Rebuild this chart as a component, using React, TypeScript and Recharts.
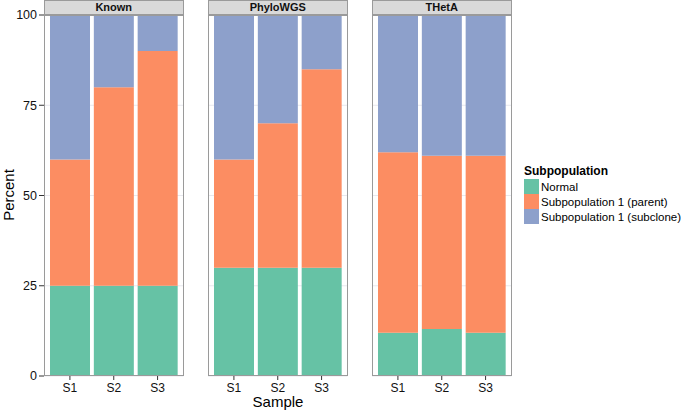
import React from 'react';
import { BarChart, Bar, XAxis, YAxis, CartesianGrid } from 'recharts';

const categories = ['S1', 'S2', 'S3'];
const facets = ['Known', 'PhyloWGS', 'THetA'];
const seriesNames = ['Normal', 'Subpopulation 1 (parent)', 'Subpopulation 1 (subclone)'];
const seriesColors = ['#66c2a5', '#fc8d62', '#8da0cb'];
const yTicks = [0, 25, 50, 75, 100];

const knownNormal = [25, 25, 25];
const knownParent = [35, 55, 65];
const knownSubclone = [40, 20, 10];

const phyloNormal = [30, 30, 30];
const phyloParent = [30, 40, 55];
const phyloSubclone = [40, 30, 15];

const thetaNormal = [12, 13, 12];
const thetaParent = [50, 48, 49];
const thetaSubclone = [38, 39, 39];

const build = (n: number[], p: number[], s: number[]) =>
  categories.map((c, i) => ({ sample: c, normal: n[i], parent: p[i], subclone: s[i] }));

const panelData = [
  build(knownNormal, knownParent, knownSubclone),
  build(phyloNormal, phyloParent, phyloSubclone),
  build(thetaNormal, thetaParent, thetaSubclone),
];

const FONT = '"Liberation Sans", Arial, Helvetica, sans-serif';
const PLOT_TOP = 15;
const PLOT_BOTTOM = 376;
const PANEL_W = 139.5;
const panelLefts = [44, 208, 372];
const CHART_H = 411;
const YAXIS_W = 44;

function Panel({ idx }: { idx: number }) {
  const withAxis = idx === 0;
  const left = panelLefts[idx] - (withAxis ? YAXIS_W : 0);
  const width = PANEL_W + (withAxis ? YAXIS_W : 0);
  return (
    <div style={{ position: 'absolute', left, top: 0 }}>
      <BarChart
        width={width}
        height={CHART_H}
        data={panelData[idx]}
        margin={{ top: PLOT_TOP, right: 0, bottom: 0, left: 0 }}
        barSize={40}
      >
        <CartesianGrid stroke="#e8e8ee" strokeWidth={1} vertical={false} />
        <XAxis
          dataKey="sample"
          height={CHART_H - PLOT_BOTTOM}
          padding={{ left: 4, right: 4 }}
          axisLine={false}
          tickLine={{ stroke: '#333' }}
          tickSize={4}
          tickMargin={3}
          tick={{ fontSize: 12, fill: '#111', fontFamily: FONT }}
        />
        <YAxis
          hide={!withAxis}
          width={YAXIS_W}
          domain={[0, 100]}
          ticks={yTicks}
          axisLine={false}
          tickLine={{ stroke: '#333' }}
          tickSize={5}
          tick={{ fontSize: 12.5, fill: '#111', fontFamily: FONT }}
        />
        <Bar dataKey="normal" stackId="a" fill={seriesColors[0]} isAnimationActive={false} />
        <Bar dataKey="parent" stackId="a" fill={seriesColors[1]} isAnimationActive={false} />
        <Bar dataKey="subclone" stackId="a" fill={seriesColors[2]} isAnimationActive={false} />
      </BarChart>
    </div>
  );
}

export default function App() {
  return (
    <div
      style={{
        position: 'absolute',
        left: 0,
        top: 0,
        width: 685,
        height: 411,
        background: '#fff',
        fontFamily: FONT,
        overflow: 'hidden',
      }}
    >
      {facets.map((f, i) => (
        <Panel key={'p' + f} idx={i} />
      ))}
      {facets.map((f, i) => (
        <div
          key={'b' + f}
          style={{
            position: 'absolute',
            left: panelLefts[i],
            top: PLOT_TOP,
            width: PANEL_W,
            height: PLOT_BOTTOM - PLOT_TOP,
            boxSizing: 'border-box',
            border: '1px solid #9a9a9a',
            pointerEvents: 'none',
          }}
        />
      ))}
      {facets.map((f, i) => (
        <div
          key={'s' + f}
          style={{
            position: 'absolute',
            left: panelLefts[i],
            top: 0,
            width: PANEL_W,
            height: PLOT_TOP,
            boxSizing: 'border-box',
            border: '1px solid #9a9a9a',
            background: '#d9d9d9',
            fontSize: 11,
            fontWeight: 'bold',
            color: '#111',
            textAlign: 'center',
            lineHeight: '13px',
          }}
        >
          {f}
        </div>
      ))}
      <div
        style={{
          position: 'absolute',
          left: 9,
          top: 195,
          transform: 'translate(-50%, -50%) rotate(-90deg)',
          fontSize: 15,
          lineHeight: '16px',
          color: '#000',
          whiteSpace: 'nowrap',
        }}
      >
        Percent
      </div>
      <div
        style={{
          position: 'absolute',
          left: 278,
          top: 402,
          transform: 'translate(-50%, -50%)',
          fontSize: 15,
          lineHeight: '16px',
          color: '#000',
          whiteSpace: 'nowrap',
        }}
      >
        Sample
      </div>
      <div style={{ position: 'absolute', left: 524, top: 164, fontSize: 11.5, color: '#000' }}>
        <div style={{ fontWeight: 'bold', lineHeight: '15px', fontSize: 12 }}>Subpopulation</div>
        {seriesNames.map((n, i) => (
          <div key={n} style={{ display: 'flex', alignItems: 'center', height: 15 }}>
            <div style={{ width: 15, height: 15, background: seriesColors[i], marginRight: 2 }} />
            <span style={{ whiteSpace: 'nowrap' }}>{n}</span>
          </div>
        ))}
      </div>
    </div>
  );
}
